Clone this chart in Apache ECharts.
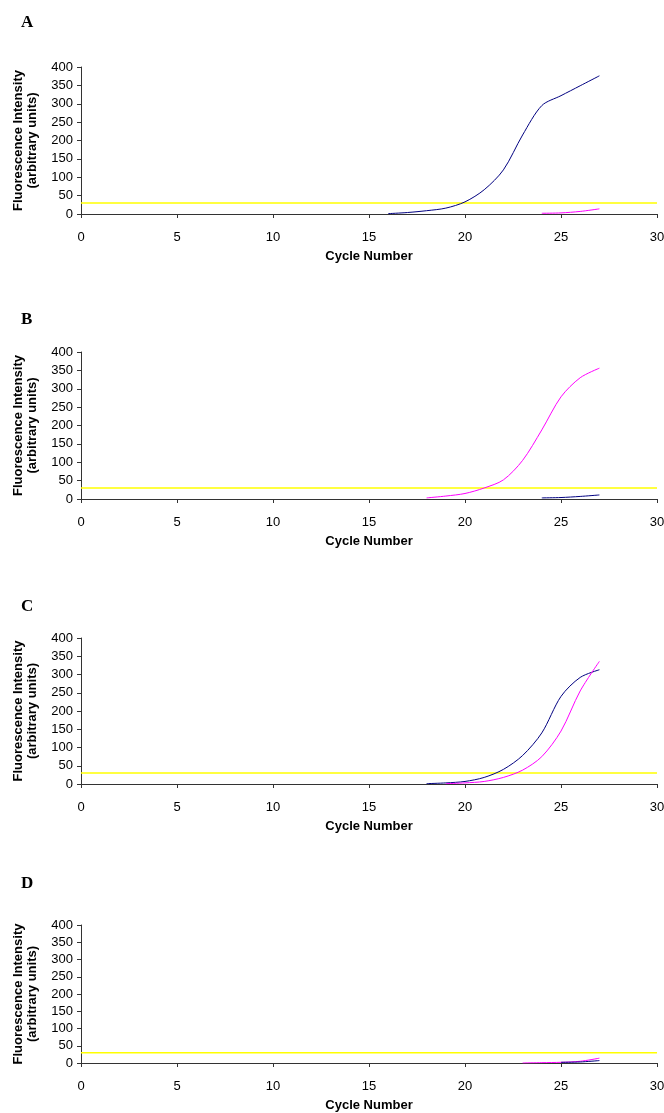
<!DOCTYPE html>
<html>
<head>
<meta charset="utf-8">
<script src="https://cdn.jsdelivr.net/npm/echarts@6/dist/echarts.min.js"></script>
<style>
html,body{margin:0;padding:0;background:#fff;}
#chart{width:664px;height:1113px;}
</style>
</head>
<body>
<div id="chart"></div>
<script>
// ---- data ----
const panelLetters = ['A', 'B', 'C', 'D'];
const xTicks = [0, 5, 10, 15, 20, 25, 30];
const yTicks = [0, 50, 100, 150, 200, 250, 300, 350, 400];
const threshold = 30;

// Panel A
const aBlueCycles = [16, 17, 18, 19, 20, 21, 22, 23, 24, 25, 26, 27];
const aBlueValues = [1, 4, 9, 16, 33, 66, 120, 215, 295, 322, 349, 376];
const aPinkCycles = [24, 25, 26, 27];
const aPinkValues = [2, 3, 7, 14];
// Panel B
const bPinkCycles = [18, 19, 20, 21, 22, 23, 24, 25, 26, 27];
const bPinkValues = [3, 8, 15, 30, 52, 105, 188, 278, 330, 356];
const bBlueCycles = [24, 25, 26, 27];
const bBlueValues = [3, 4, 7, 11];
// Panel C
const cBlueCycles = [18, 19, 20, 21, 22, 23, 24, 25, 26, 27];
const cBlueValues = [1, 3, 7, 18, 40, 78, 140, 240, 292, 313];
const cPinkCycles = [19, 20, 21, 22, 23, 24, 25, 26, 27];
const cPinkValues = [1, 3, 7, 18, 38, 75, 145, 255, 336];
// Panel D
const dPinkCycles = [23, 24, 25, 26, 27];
const dPinkValues = [0, 1, 2, 5, 14];
const dBlueCycles = [25, 26, 27];
const dBlueValues = [2, 3, 7];

const xTitle = 'Cycle Number';
const yTitle = 'Fluorescence Intensity\n(arbitrary units)';

// ---- styling / layout ----
const BLUE = '#000080';
const PINK = '#ff00ff';
const YELLOW = '#ffff00';
const FONT = '"Liberation Sans", Arial, sans-serif';
const AXIS = '#333333';

const gridBoxes = [
  {top: 67, height: 147},
  {top: 352, height: 147},
  {top: 638, height: 146},
  {top: 925, height: 138}
];
const letterY = [23, 320, 607, 884];

const panels = [
  [{c: aBlueCycles, v: aBlueValues, color: BLUE}, {c: aPinkCycles, v: aPinkValues, color: PINK}],
  [{c: bPinkCycles, v: bPinkValues, color: PINK}, {c: bBlueCycles, v: bBlueValues, color: BLUE}],
  [{c: cBlueCycles, v: cBlueValues, color: BLUE}, {c: cPinkCycles, v: cPinkValues, color: PINK}],
  [{c: dPinkCycles, v: dPinkValues, color: PINK}, {c: dBlueCycles, v: dBlueValues, color: BLUE}]
];

function pairs(xs, ys) { return xs.map((x, i) => [x, ys[i]]); }

const grid = [], xAxis = [], yAxis = [], series = [], graphic = [];
gridBoxes.forEach((g, i) => {
  grid.push({left: 81, width: 576, top: g.top, height: g.height, outerBoundsMode: 'none', containLabel: false});
  xAxis.push({
    type: 'value', gridIndex: i, min: xTicks[0], max: xTicks[xTicks.length - 1], interval: 5,
    name: xTitle, nameLocation: 'middle', nameGap: 36,
    nameTextStyle: {fontFamily: FONT, fontWeight: 'bold', fontSize: 13, color: '#000'},
    axisLine: {show: true, lineStyle: {color: AXIS, width: 1}},
    axisTick: {show: true, inside: false, length: 4, lineStyle: {color: AXIS}},
    axisLabel: {margin: 17, fontFamily: FONT, fontSize: 13, color: '#000'},
    splitLine: {show: false}
  });
  yAxis.push({
    type: 'value', gridIndex: i, min: yTicks[0], max: yTicks[yTicks.length - 1], interval: 50,
    name: yTitle, nameLocation: 'middle', nameGap: 42, nameRotate: 90,
    nameTextStyle: {fontFamily: FONT, fontWeight: 'bold', fontSize: 13, color: '#000', lineHeight: 14, align: 'center'},
    axisLine: {show: true, lineStyle: {color: AXIS, width: 1}},
    axisTick: {show: true, inside: false, length: 4, lineStyle: {color: AXIS}},
    axisLabel: {margin: 8, fontFamily: FONT, fontSize: 13, color: '#000'},
    splitLine: {show: false}
  });
  series.push({
    type: 'line', xAxisIndex: i, yAxisIndex: i, data: [[xTicks[0], threshold], [xTicks[xTicks.length - 1], threshold]],
    showSymbol: false, symbol: 'none', lineStyle: {color: YELLOW, width: 1.5}, silent: true, z: 1
  });
  panels[i].forEach(s => {
    series.push({
      type: 'line', xAxisIndex: i, yAxisIndex: i, data: pairs(s.c, s.v),
      smooth: 0.3, symbol: 'none', showSymbol: false, lineStyle: {color: s.color, width: 1}, silent: true, z: 2
    });
  });
  graphic.push({
    type: 'text', left: 21, top: letterY[i] - 9,
    style: {text: panelLetters[i], font: 'bold 17px "Liberation Serif", "Times New Roman", serif', fill: '#000'}
  });
});

const chart = echarts.init(document.getElementById('chart'), null, {renderer: 'canvas'});
chart.setOption({animation: false, backgroundColor: '#fff', grid, xAxis, yAxis, series, graphic});
</script>
</body>
</html>
